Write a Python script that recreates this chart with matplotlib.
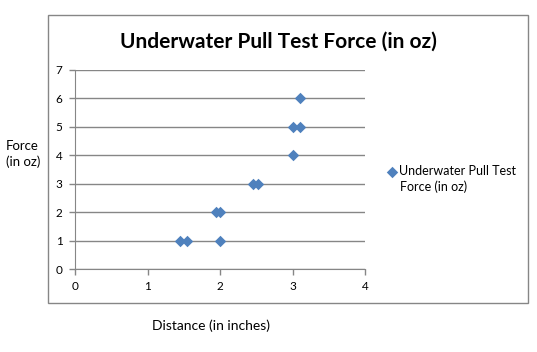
import matplotlib.pyplot as plt
from matplotlib.patches import Rectangle

# data
distance = [1.45, 1.55, 2.0, 1.95, 2.0, 2.45, 2.52, 3.0, 3.0, 3.1, 3.1]
force = [1, 1, 1, 2, 2, 3, 3, 4, 5, 5, 6]
series_line1 = 'Underwater Pull Test'
series_line2 = 'Force (in oz)'
x_ticks = [0, 1, 2, 3, 4]
y_ticks = [0, 1, 2, 3, 4, 5, 6, 7]

plt.rcParams['font.family'] = ['Lato', 'DejaVu Sans']
grey = '#868686'
blue = '#4F81BD'

fig = plt.figure(figsize=(5.37, 3.52), dpi=100)
fig.patches.append(Rectangle((48 / 537, 49 / 352), 480 / 537, 288 / 352,
                             transform=fig.transFigure, fill=False,
                             edgecolor=grey, linewidth=1))

ax = fig.add_axes([75 / 537, 83 / 352, 290 / 537, 199 / 352])
ax.scatter(distance, force, marker='D', s=34, color=blue, label=series_line1,
           zorder=3, linewidths=0)
ax.set_xlim(0, 4)
ax.set_ylim(0, 7)
ax.set_xticks(x_ticks)
ax.set_yticks(y_ticks)
ax.grid(axis='y', color=grey, linewidth=1)
ax.set_axisbelow(True)
for s in ['top', 'right']:
    ax.spines[s].set_visible(False)
for s in ['left', 'bottom']:
    ax.spines[s].set_color(grey)
ax.tick_params(colors=grey, labelcolor='black', labelsize=8.5, length=4,
               width=1, pad=5)

fig.suptitle('Underwater Pull Test Force (in oz)', x=278 / 537, y=1 - 42 / 352,
             va='center', fontsize=15, fontweight='bold')
fig.text(6 / 537, 1 - 154 / 352, 'Force\n(in oz)', fontsize=9.5, va='center',
         linespacing=1.35)
fig.text(211 / 537, 1 - 326 / 352, 'Distance (in inches)', fontsize=10,
         ha='center', va='center')

ax.legend(loc='center left', bbox_to_anchor=(387 / 537, 1 - 171 / 352),
          bbox_transform=fig.transFigure, frameon=False, fontsize=9,
          handletextpad=0.15, borderpad=0, borderaxespad=0, handlelength=0.8,
          scatterpoints=1)
fig.text(400 / 537, 1 - 187 / 352, series_line2, fontsize=9, va='center')

fig.savefig('out.png', dpi=100)
